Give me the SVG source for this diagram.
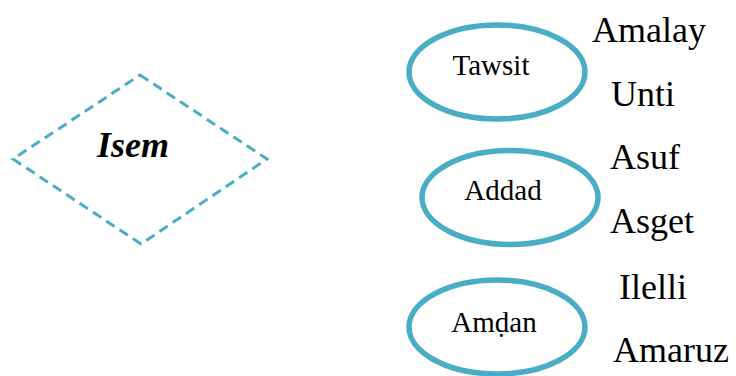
<svg xmlns="http://www.w3.org/2000/svg" width="736" height="376" viewBox="0 0 736 376">
<style>
.ell{fill:none;stroke:#4BACC6;stroke-width:5.5}
.dia{fill:none;stroke:#4BACC6;stroke-width:3;stroke-dasharray:10 6}
text{font-family:"Liberation Serif",serif;fill:#000}
.lbl{font-size:29px;text-anchor:middle}
.val{font-size:36px}
.main{font-size:36px;font-weight:bold;font-style:italic;text-anchor:middle}
</style>
<rect width="736" height="376" fill="#fff"/>
<g id="isem">
<polygon class="dia" points="140,75 267,159 141,244 13,159"/>
<text class="main" x="133" y="157" font-family="Liberation Serif">Isem</text>
</g>
<g id="tawsit">
<ellipse class="ell" cx="497" cy="72" rx="88" ry="47"/>
<text class="lbl" x="491" y="75" font-family="Liberation Serif">Tawsit</text>
</g>
<g id="addad">
<ellipse class="ell" cx="510" cy="197.5" rx="88" ry="47"/>
<text class="lbl" x="503" y="200" font-family="Liberation Serif">Addad</text>
</g>
<g id="amdan">
<ellipse class="ell" cx="497" cy="327" rx="88" ry="47"/>
<text class="lbl" x="494" y="332" font-family="Liberation Serif">Amḍan</text>
</g>
<g id="values">
<text class="val" x="592" y="42" font-family="Liberation Serif">Amalay</text>
<text class="val" x="611" y="106" font-family="Liberation Serif">Unti</text>
<text class="val" x="610" y="169" font-family="Liberation Serif">Asuf</text>
<text class="val" x="610" y="233" font-family="Liberation Serif">Asget</text>
<text class="val" x="619" y="299" font-family="Liberation Serif">Ilelli</text>
<text class="val" x="613" y="362" font-family="Liberation Serif">Amaruz</text>
</g>
<g id="connectors"></g>
</svg>
